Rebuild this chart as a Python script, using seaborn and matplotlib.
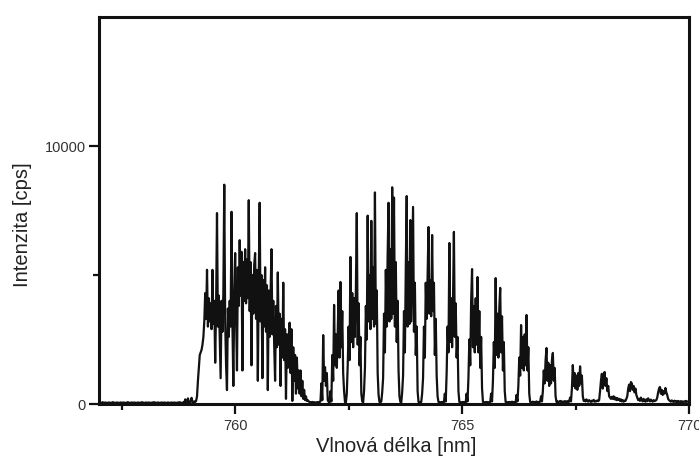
import numpy as np
import pandas as pd
import matplotlib
matplotlib.use("Agg")
import matplotlib.pyplot as plt
from matplotlib.ticker import FixedLocator, NullFormatter
import seaborn as sns

sns.set_style("ticks")
plt.rcParams["font.family"] = ["Liberation Sans", "DejaVu Sans"]

# Emission spectrum sampled every 0.02 nm starting at 757.00 nm
wl_start = 757.0
wl_step = 0.02

intensity = [
    # 757.0 nm
    50, 60, 40, 50, 70, 50, 40, 60, 50, 40, 50, 60, 50, 40, 50, 70, 60, 50, 40, 50, 60, 50, 40, 50, 60,
    # 757.5 nm
    50, 40, 60, 50, 40, 50, 60, 70, 50, 40, 50, 60, 50, 40, 60, 50, 40, 50, 60, 50, 40, 50, 70, 60, 50,
    # 758.0 nm
    40, 50, 60, 50, 40, 60, 50, 40, 50, 60, 50, 70, 50, 40, 50, 60, 50, 40, 50, 60, 50, 40, 60, 50, 40,
    # 758.5 nm
    50, 60, 50, 40, 50, 60, 50, 40, 60, 50, 40, 50, 60, 50, 70, 50, 40, 50, 60, 50, 180, 70, 60, 220, 80,
    # 759.0 nm
    60, 90, 240, 80, 60, 100, 80, 120, 300, 900, 1400, 1900, 2000, 2100, 2300, 2600, 3200, 4300, 3300, 5200,
    3000, 4100, 3200, 3900, 2900,
    # 759.5 nm
    5200, 3100, 4000, 1600, 3800, 7400, 3000, 4200, 2600, 1000, 4000, 2800, 4300, 8500, 3200, 1500, 540, 3700,
    2600, 4000, 3000, 7450, 3100, 700, 4100,
    # 760.0 nm
    5850, 3400, 1300, 5300, 3800, 6350, 4200, 5900, 1300, 5500, 4000, 6000, 3900, 5600, 4100, 7900, 3600, 5500,
    1500, 5000, 3500, 5400, 5850, 3300, 5200,
    # 760.5 nm
    900, 4900, 7800, 3200, 5000, 1000, 4800, 3000, 5300, 2800, 4600, 540, 4400, 2600, 4200, 6000, 2700, 4000,
    2300, 900, 3800, 2200, 5100, 2300, 3500,
    # 761.0 nm
    700, 3300, 1800, 4700, 1700, 2900, 200, 2700, 1400, 2600, 3150, 1200, 2900, 120, 2200, 900, 1900, 400,
    1800, 600, 1300, 400, 1300, 300, 900,
    # 761.5 nm
    200, 550, 150, 300, 120, 150, 100, 80, 70, 60, 80, 60, 70, 60, 50, 70, 60, 80, 70, 100, 800, 150, 2670,
    900, 1430,
    # 762.0 nm
    700, 1200, 150, 80, 60, 500, 100, 1900, 900, 3840, 1500, 2700, 1400, 2800, 4400, 1800, 4730, 2200, 3600,
    1200, 500, 80, 60, 400, 1500,
    # 762.5 nm
    3000, 1700, 5700, 2400, 4300, 2200, 4100, 2600, 4400, 7400, 2300, 3900, 1500, 2600, 400, 100, 60, 500,
    1400, 3800, 2500, 7300, 3200, 5000, 2900,
    # 763.0 nm
    7100, 3300, 5300, 3000, 8200, 3100, 4400, 1200, 350, 80, 60, 100, 450, 1000, 3500, 2000, 5200, 3000, 5800,
    7800, 3200, 6000, 3300, 8400, 3500,
    # 763.5 nm
    8000, 3000, 5500, 2400, 4000, 1300, 300, 80, 60, 450, 1100, 3600, 2000, 5300, 8060, 3000, 5500, 3100, 7130,
    3200, 5400, 7640, 2800, 4700, 1900,
    # 764.0 nm
    3000, 500, 80, 60, 60, 80, 400, 1000, 3000, 1800, 4700, 3300, 4900, 6860, 3500, 4800, 3400, 6550, 3600,
    4700, 1900, 3300, 1100, 300, 80,
    # 764.5 nm
    60, 70, 60, 80, 60, 70, 400, 100, 1200, 3000, 2000, 6240, 2400, 4100, 2200, 4000, 6670, 2600, 3900, 1800,
    2600, 500, 80, 60, 70,
    # 765.0 nm
    60, 80, 60, 70, 60, 400, 100, 1000, 2500, 1500, 4000, 5230, 2200, 3800, 2000, 4100, 2300, 4920, 2000,
    3600, 1400, 2600, 600, 80, 60,
    # 765.5 nm
    70, 60, 80, 60, 70, 60, 80, 400, 100, 900, 2400, 1400, 4880, 1900, 3500, 1800, 3700, 4500, 2000, 3400,
    1300, 2400, 500, 80, 60,
    # 766.0 nm
    70, 60, 80, 60, 70, 90, 60, 80, 70, 60, 350, 100, 700, 1800, 1100, 3060, 1400, 2600, 1300, 2700, 1500,
    3450, 1300, 2200, 400,
    # 766.5 nm
    80, 60, 70, 90, 60, 80, 70, 100, 60, 80, 70, 90, 300, 100, 500, 1300, 800, 1700, 2170, 900, 1600, 700,
    1500, 800, 1700,
    # 767.0 nm
    1980, 900, 1400, 300, 80, 100, 70, 90, 120, 80, 100, 70, 90, 110, 80, 100, 70, 120, 90, 250, 100, 600,
    1510, 700, 1200,
    # 767.5 nm
    600, 1100, 550, 1200, 700, 1460, 800, 1100, 300, 120, 150, 100, 180, 120, 90, 150, 110, 80, 130, 100, 160,
    90, 120, 100, 140,
    # 768.0 nm
    110, 150, 500, 900, 1170, 600, 1000, 1240, 700, 1000, 500, 700, 300, 250, 200, 280, 200, 300, 180, 250,
    150, 230, 160, 200, 120,
    # 768.5 nm
    180, 100, 150, 90, 130, 120, 200, 300, 600, 750, 500, 850, 800, 550, 700, 450, 600, 350, 250, 150, 200,
    120, 250, 150, 100,
    # 769.0 nm
    200, 130, 90, 180, 110, 220, 140, 100, 170, 120, 90, 150, 110, 130, 150, 250, 450, 600, 660, 400, 550,
    350, 500, 400, 620,
    # 769.5 nm
    450, 350, 200, 150, 120, 90, 140, 100, 80, 130, 90, 110, 70, 120, 90, 80, 110, 70, 100, 80, 90, 120, 80,
    100, 90,
    # 770.0 nm
    80,
]

x_major = [760, 765, 770]
x_minor = [757.5, 762.5, 767.5]
y_major = [0, 10000]
y_minor = [5000]
x_range = (757, 770)
y_range = (0, 15000)
x_label = "Vlnová délka [nm]"
y_label = "Intenzita [cps]"

wavelength = np.round(wl_start + wl_step * np.arange(len(intensity)), 3)
spectrum = pd.DataFrame({"wavelength": wavelength, "intensity": intensity})

fig = plt.figure(figsize=(6.99, 4.65), dpi=100)
fig.patch.set_facecolor("white")
ax = fig.add_axes([99 / 699, 61 / 465, 590 / 699, 387 / 465])

sns.lineplot(data=spectrum, x="wavelength", y="intensity", ax=ax,
             color="#111111", linewidth=1.6, estimator=None, sort=False)

ax.set_xlim(*x_range)
ax.set_ylim(*y_range)

ax.xaxis.set_major_locator(FixedLocator(x_major))
ax.xaxis.set_minor_locator(FixedLocator(x_minor))
ax.yaxis.set_major_locator(FixedLocator(y_major))
ax.yaxis.set_minor_locator(FixedLocator(y_minor))
ax.xaxis.set_minor_formatter(NullFormatter())
ax.yaxis.set_minor_formatter(NullFormatter())

for side in ["left", "right", "top", "bottom"]:
    ax.spines[side].set_visible(True)
    ax.spines[side].set_linewidth(2.2)
    ax.spines[side].set_color("#111111")

ax.tick_params(axis="both", which="major", direction="out", length=7, width=1.6,
               color="#111111", labelsize=10.5, labelcolor="#333333")
ax.tick_params(axis="both", which="minor", direction="out", length=4, width=1.6,
               color="#111111")
ax.tick_params(axis="y", which="major", pad=2.5)
ax.tick_params(axis="x", which="major", pad=3.5)

ax.set_xlabel(x_label, fontsize=14.5, color="#222222")
ax.set_ylabel(y_label, fontsize=14.5, color="#222222")
ax.xaxis.set_label_coords(0.503, -0.085)
ax.yaxis.set_label_coords(-0.114, 0.463)

fig.savefig("out.png", dpi=100, facecolor="white")
